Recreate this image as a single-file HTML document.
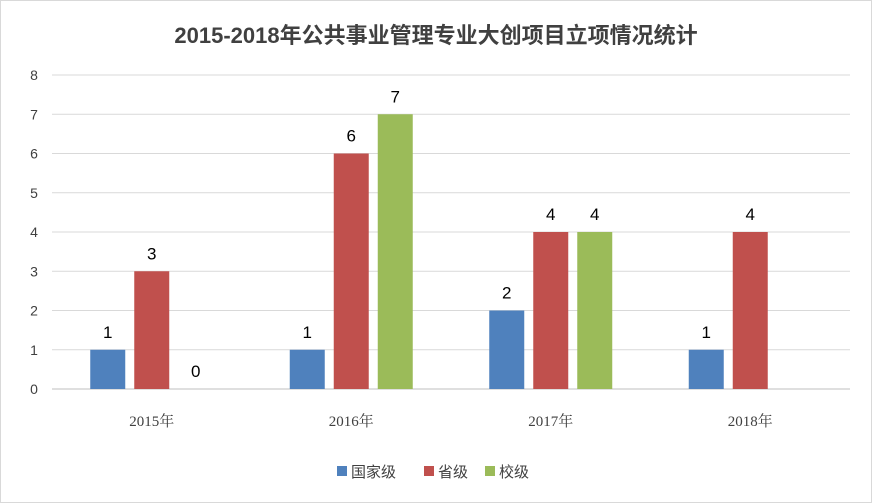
<!DOCTYPE html>
<html><head><meta charset="utf-8"><style>
body{margin:0;background:#fff;}
svg{display:block;}
</style></head><body>
<svg width="872" height="503" xmlns="http://www.w3.org/2000/svg">
<rect x="0.5" y="0.5" width="871" height="502" fill="#fff" stroke="#d9d9d9"/>
<text x="436" y="43" text-anchor="middle" font-family="'Liberation Sans','Noto Sans CJK SC',sans-serif" font-size="22" font-weight="bold" fill="#404040">2015-2018年公共事业管理专业大创项目立项情况统计</text>
<g id="grid"></g>
<g id="bars"></g>
<g id="legend"></g>
</svg>
<script>
const categories=["2015年","2016年","2017年","2018年"];
const seriesNames=["国家级","省级","校级"];
const national=[1,1,2,1];
const provincial=[3,6,4,4];
const school=[0,7,4,null];
const yTicks=[0,1,2,3,4,5,6,7,8];
const colors=["#4f81bd","#c0504d","#9bbb59"];
const NS="http://www.w3.org/2000/svg";
const x0=52,x1=850,y0=389,yTop=75,yMax=8;
const y=v=>y0-(v/yMax)*(y0-yTop);
const bw=(x1-x0)/categories.length;
const cx=i=>x0+bw*(i+0.5);
function mk(tag,attrs,parent){const e=document.createElementNS(NS,tag);for(const k in attrs)e.setAttribute(k,attrs[k]);parent.appendChild(e);return e;}
const grid=document.getElementById('grid');
yTicks.forEach(t=>{
 const l=mk('line',{x1:x0,x2:x1,y1:y(t),y2:y(t),stroke:t===0?'#bfbfbf':'#d9d9d9'},grid);
 
 
 const tx=mk('text',{x:34,y:y(t)+5,'text-anchor':'middle','font-family':'Liberation Sans,sans-serif','font-size':'14',fill:'#404040'},grid);
 tx.textContent=t;
 
 
});
categories.forEach((c,i)=>{
 const tx=mk('text',{x:cx(i),y:426,'text-anchor':'middle','font-family':'Liberation Serif,Noto Serif CJK SC,serif','font-size':'15',fill:'#404040'},grid);
 tx.textContent=c;
 
 
});
const bars=document.getElementById('bars');
const all=[national,provincial,school];
const barW=35,gap=9;
all.forEach((s,si)=>{
 s.forEach((v,i)=>{
  if(v===null)return;
  const bx=cx(i)+(si-1)*(barW+gap)-barW/2;
  const r=mk('rect',{x:bx,y:y(v),width:barW,height:y0-y(v),fill:colors[si]},bars);
  
  
  const t=mk('text',{x:bx+barW/2,y:y(v)-12,'text-anchor':'middle','font-family':'Liberation Sans,sans-serif','font-size':'17',fill:'#000'},bars);
  t.textContent=v;
  
  
 });
});
const lg=document.getElementById('legend');
const lx=[337,424,485];
seriesNames.forEach((n,i)=>{
 const r=mk('rect',{x:lx[i],y:466,width:10,height:10,fill:colors[i]},lg);
 
 
 const t=mk('text',{x:lx[i]+14,y:477,'font-family':'Liberation Sans,Noto Sans CJK SC,sans-serif','font-size':'15',fill:'#404040'},lg);
 t.textContent=n;
 
 
});
</script>
</body></html>
